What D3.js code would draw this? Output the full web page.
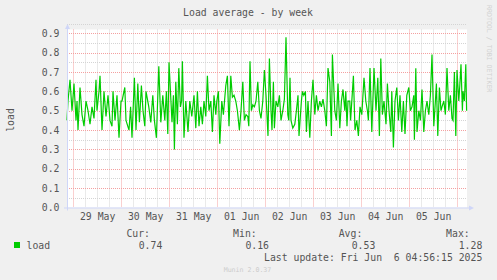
<!DOCTYPE html>
<html>
<head>
<meta charset="utf-8">
<script src="https://cdn.jsdelivr.net/npm/d3@7"></script>
<style>
  body { margin: 0; background: #f0f0f0; }
  text { font-family: "DejaVu Sans Mono", monospace; }
</style>
</head>
<body>
<div class="graph"></div>
<script>
// hours since graph start (graph covers 200h ending at last update)
const hours = [0,0.5,1.5,2.5,3.5,4.5,5,5.5,6.5,7.5,8.5,9.5,10.5,11.5,12.5,13.5,14.5,15,16,16.5,17.5,18.5,19.5,20.5,21.5,22.5,23,24,25,26,27,27.5,28.9,29.5,31,31.8,32.5,33.7,34.5,35.4,36.2,37.2,38,38.9,39.5,40.9,41.9,42.9,43.7,44.7,45.9,46.9,47.9,48.9,49.7,50.4,51,52.5,53.2,53.7,54.4,55.2,55.9,56.7,57.3,57.7,58.5,59.4,60.5,61.4,62.4,63.5,64.4,65.2,66,66.9,67.7,68.5,69.4,70.2,71,71.9,72.7,73.5,74.4,74.9,75.7,76.4,77.4,78.2,79.4,80.2,81,81.9,82.7,83.5,84.4,85.2,86.2,87,87.9,88.7,89.5,90.4,90.9,91.5,92.2,92.9,93.7,94.5,95.4,96.2,97,97.9,98.7,99.5,100.5,101.2,102,102.5,103.2,103.7,104.5,105.4,106.2,107,107.9,108.7,109.5,110.4,110.9,111.5,112,112.9,113.9,114.7,115.5,116,117.2,117.7,118.4,119.2,119.7,120.5,121.4,122.2,123,123.9,124.7,125.5,126.4,127.2,128,128.9,129.7,130.5,131.4,132.2,132.7,133.9,134.7,135.5,136.4,137.2,138,138.9,139.4,140,140.5,141.4,141.8,143.2,144,144.9,145.7,146.5,147.4,148.5,149.4,150.2,150.7,151.5,152.4,153.5,154.5,155.4,156.2,156.9,157.7,158.5,159.5,160.2,161,161.9,162.4,163.2,164,164.9,165.7,166.5,167.4,168.2,169,169.9,170.9,171.7,172.5,173.4,173.7,174.4,175,175.9,176.7,177.5,178.4,179.2,180,180.9,181.7,182.5,183.4,184.2,184.7,185.4,186.2,187,187.5,188.4,189.2,190,190.9,191.7,192.5,193,193.7,194.4,195,195.9,196.4,197,197.7,198,198.7,199.4,199.8];
const load = [0.45,0.55,0.66,0.50,0.64,0.45,0.55,0.40,0.62,0.48,0.42,0.55,0.50,0.43,0.52,0.46,0.66,0.50,0.60,0.68,0.40,0.60,0.47,0.58,0.45,0.42,0.60,0.45,0.58,0.36,0.55,0.55,0.62,0.45,0.40,0.52,0.36,0.67,0.40,0.64,0.44,0.63,0.50,0.42,0.60,0.52,0.44,0.58,0.45,0.36,0.73,0.44,0.58,0.45,0.60,0.38,0.75,0.44,0.58,0.30,0.65,0.43,0.72,0.52,0.55,0.756,0.36,0.55,0.39,0.55,0.47,0.58,0.41,0.60,0.42,0.52,0.43,0.55,0.47,0.68,0.50,0.55,0.39,0.58,0.48,0.55,0.60,0.33,0.55,0.48,0.63,0.68,0.42,0.68,0.57,0.58,0.55,0.50,0.40,0.50,0.65,0.45,0.48,0.47,0.42,0.756,0.50,0.53,0.52,0.55,0.65,0.50,0.46,0.55,0.71,0.58,0.37,0.77,0.50,0.40,0.65,0.41,0.55,0.52,0.58,0.45,0.50,0.56,0.88,0.48,0.45,0.67,0.45,0.41,0.43,0.50,0.58,0.37,0.55,0.60,0.58,0.60,0.39,0.55,0.36,0.55,0.66,0.48,0.58,0.50,0.55,0.52,0.56,0.50,0.42,0.72,0.65,0.37,0.79,0.50,0.45,0.64,0.41,0.55,0.61,0.50,0.60,0.42,0.55,0.55,0.45,0.68,0.40,0.45,0.37,0.52,0.48,0.67,0.55,0.50,0.45,0.72,0.39,0.72,0.50,0.67,0.37,0.77,0.48,0.55,0.43,0.64,0.50,0.39,0.60,0.31,0.55,0.62,0.45,0.58,0.39,0.55,0.38,0.58,0.62,0.50,0.52,0.58,0.35,0.72,0.39,0.50,0.45,0.61,0.39,0.50,0.55,0.48,0.58,0.79,0.42,0.55,0.64,0.37,0.62,0.50,0.52,0.55,0.48,0.72,0.50,0.58,0.46,0.45,0.70,0.37,0.71,0.55,0.63,0.74,0.50,0.60,0.55,0.74,0.50];

const yTicks = [0, 0.1, 0.2, 0.3, 0.4, 0.5, 0.6, 0.7, 0.8, 0.9];
const statLabels = ['Cur:', 'Min:', 'Avg:', 'Max:'];
const statValues = ['0.74', '0.16', '0.53', '1.28'];
const lastUpdate = 'Last update: Fri Jun  6 04:56:15 2025';

const width = 497, height = 280;
const plotLeft = 67, plotRight = 467, plotTop = 33.3, plotBottom = 207.5;

const end = Date.UTC(2025, 5, 6, 4, 56, 15);
const start = end - 200 * 3600e3;

const svg = d3.select('.graph').append('svg')
  .attr('width', width)
  .attr('height', height)
  .style('display', 'block')

svg.append('rect').attr('width', width).attr('height', height).attr('fill', '#f0f0f0')

const x = d3.scaleUtc().domain([start, end]).range([plotLeft, plotRight])
const y = d3.scaleLinear().domain([0, 0.9]).range([plotBottom, plotTop])

// canvas
svg.append('rect')
  .attr('x', plotLeft).attr('y', 29.5)
  .attr('width', plotRight - plotLeft).attr('height', plotBottom - 29.5)
  .attr('fill', '#fff')

// minor grid
const minorX = d3.utcHour.every(6).range(new Date(start), new Date(end))
svg.append('g').selectAll('line')
  .data(minorX.filter(d => d.getUTCHours() !== 0))
  .enter().append('line')
  .attr('x1', d => Math.round(x(d)) + 0.5).attr('x2', d => Math.round(x(d)) + 0.5)
  .attr('y1', 29.5).attr('y2', plotBottom)
  .attr('stroke', '#d4d4d4').attr('stroke-dasharray', '1,1')

svg.append('g').selectAll('line')
  .data(yTicks.map(d => d + 0.05))
  .enter().append('line')
  .attr('x1', plotLeft).attr('x2', plotRight)
  .attr('y1', d => Math.round(y(d)) + 0.5).attr('y2', d => Math.round(y(d)) + 0.5)
  .attr('stroke', '#d4d4d4').attr('stroke-dasharray', '1,1')

// major grid
svg.append('g').selectAll('line')
  .data(d3.utcDay.range(new Date(start), new Date(end)))
  .enter().append('line')
  .attr('x1', d => Math.round(x(d)) + 0.5).attr('x2', d => Math.round(x(d)) + 0.5)
  .attr('y1', 29.5).attr('y2', plotBottom)
  .attr('stroke', '#f4a0a0').attr('stroke-dasharray', '1,1')

svg.append('g').selectAll('line')
  .data(yTicks.slice(1))
  .enter().append('line')
  .attr('x1', plotLeft).attr('x2', plotRight)
  .attr('y1', d => Math.round(y(d)) + 0.5).attr('y2', d => Math.round(y(d)) + 0.5)
  .attr('stroke', '#f4a0a0').attr('stroke-dasharray', '1,1')

// data line
const series = hours.map((h, i) => ({ t: start + h * 3600e3, v: load[i] }))
svg.append('path')
  .datum(series)
  .attr('fill', 'none')
  .attr('stroke', '#00cc00')
  .attr('stroke-width', 1.2)
  .attr('d', d3.line().x(d => x(d.t)).y(d => y(d.v)))

// axes
const axisColor = '#cfd6f8'
svg.append('line').attr('x1', plotLeft + 0.5).attr('x2', plotLeft + 0.5).attr('y1', plotBottom + 3).attr('y2', 28)
  .attr('stroke', axisColor)
svg.append('path').attr('d', `M${plotLeft - 2},29 L${plotLeft + 3},29 L${plotLeft + 0.5},24 Z`).attr('fill', axisColor)
svg.append('line').attr('x1', plotLeft - 3).attr('x2', plotRight + 3).attr('y1', plotBottom + 0.5).attr('y2', plotBottom + 0.5)
  .attr('stroke', axisColor)
svg.append('path').attr('d', `M${plotRight + 2},${plotBottom - 2} L${plotRight + 2},${plotBottom + 3} L${plotRight + 7},${plotBottom + 0.5} Z`).attr('fill', axisColor)

const fontColor = '#555'
const fs = '9.8px'

const yAxis = svg.append('g')
  .attr('transform', `translate(${plotLeft},0)`)
  .call(d3.axisLeft(y).tickValues(yTicks).tickFormat(d3.format('.1f')).tickSize(0).tickPadding(7.5))
yAxis.select('.domain').remove()
yAxis.selectAll('text').attr('fill', fontColor).style('font-size', fs).style('font-family', '"DejaVu Sans Mono", monospace')

const noons = d3.utcDay.range(new Date(start), new Date(end)).map(d => d3.utcHour.offset(d, 12)).filter(d => +d < end)
const xAxis = svg.append('g')
  .attr('transform', `translate(0,${plotBottom})`)
  .call(d3.axisBottom(x).tickValues(noons).tickFormat(d3.utcFormat('%d %b')).tickSize(0).tickPadding(6))
xAxis.select('.domain').remove()
xAxis.selectAll('text').attr('fill', fontColor).style('font-size', fs).style('font-family', '"DejaVu Sans Mono", monospace')

// title
svg.append('text')
  .attr('x', 248).attr('y', 15.5)
  .attr('text-anchor', 'middle')
  .attr('fill', fontColor).style('font-size', fs)
  .text('Load average - by week')

// y label
svg.append('text')
  .attr('transform', 'translate(14,120) rotate(-90)')
  .attr('text-anchor', 'middle')
  .attr('fill', fontColor).style('font-size', fs)
  .text('load')

// watermark
svg.append('text')
  .attr('transform', 'translate(487,5) rotate(90)')
  .attr('fill', '#d2d2d2').style('font-size', '6.6px')
  .text('RRDTOOL / TOBI OETIKER')

// legend
svg.append('rect').attr('x', 14).attr('y', 242).attr('width', 6).attr('height', 6).attr('fill', '#00cc00')
svg.append('text').attr('x', 26.5).attr('y', 248.5).attr('fill', fontColor).style('font-size', fs).text('load')

const labelRight = [150, 256.7, 362.3, 469.7]
const valueRight = [162.3, 269, 375.3, 482.3]
svg.append('g').selectAll('text')
  .data(statLabels)
  .enter().append('text')
  .attr('x', (d, i) => labelRight[i]).attr('y', 236.5)
  .attr('text-anchor', 'end').attr('fill', fontColor).style('font-size', fs)
  .text(d => d)
svg.append('g').selectAll('text')
  .data(statValues)
  .enter().append('text')
  .attr('x', (d, i) => valueRight[i]).attr('y', 248.5)
  .attr('text-anchor', 'end').attr('fill', fontColor).style('font-size', fs)
  .text(d => d)

svg.append('text')
  .attr('x', 482.3).attr('y', 260.5)
  .attr('text-anchor', 'end').attr('fill', fontColor).style('font-size', fs)
  .style('white-space', 'pre')
  .text(lastUpdate)

svg.append('text')
  .attr('x', 247.5).attr('y', 271.5)
  .attr('text-anchor', 'middle').attr('fill', '#cccccc').style('font-size', '6.6px')
  .text('Munin 2.0.37')
</script>
</body>
</html>
